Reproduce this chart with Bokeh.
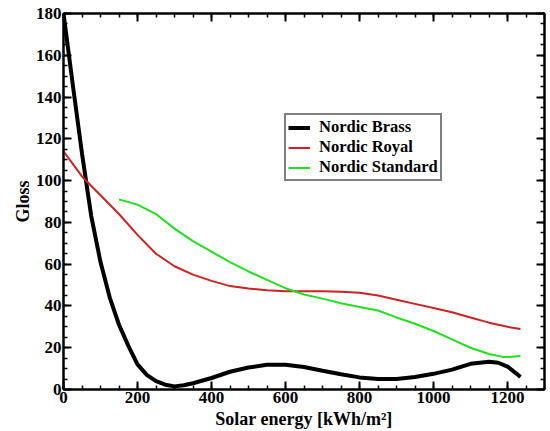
from bokeh.plotting import figure
from bokeh.models import (LinearAxis, Range1d, Legend, LegendItem, SingleIntervalTicker,
                          CustomJSTickFormatter)
from bokeh.embed import file_html
from bokeh.resources import INLINE

# ---- data ----
brass_x = [0, 25, 50, 75, 100, 125, 150, 175, 200, 225, 250, 275, 300, 325, 350, 400, 450, 500, 550,
           600, 650, 700, 750, 800, 850, 900, 950, 1000, 1050, 1100, 1150, 1175, 1200, 1225, 1235]
brass_y = [180, 146, 113, 83, 61, 44, 31, 21, 12, 7, 4, 2.3, 1.5, 2, 3, 5.5, 8.5, 10.5, 11.8,
           11.8, 10.8, 9, 7.3, 5.8, 5, 5, 6, 7.5, 9.5, 12.3, 13.3, 12.8, 11, 7.5, 6]

royal_x = [0, 50, 100, 150, 200, 250, 300, 350, 400, 450, 500, 550, 600, 650, 700, 750, 800,
           850, 900, 950, 1000, 1050, 1100, 1150, 1200, 1235]
royal_y = [114, 102, 93, 84, 74, 65, 59, 55, 52, 49.5, 48.3, 47.5, 47, 47, 47, 46.8, 46.3,
           45, 43, 41, 39, 37, 34.5, 32, 30, 29]

standard_x = [150, 200, 250, 300, 350, 400, 450, 500, 550, 600, 650, 700, 750, 800, 850, 900,
              950, 1000, 1050, 1100, 1150, 1190, 1210, 1235]
standard_y = [91, 88.5, 84, 77, 71, 66, 61, 56.5, 52.5, 48.5, 45.5, 43.5, 41.3, 39.5, 37.8, 34.5,
              31.5, 28, 24, 20, 17, 15.5, 15.7, 16]

series_names = ["Nordic Brass", "Nordic Royal", "Nordic Standard"]
x_label = "Solar energy [kWh/m\u00b2]"
y_label = "Gloss"

FONT = "Liberation Serif"

p = figure(width=550, height=431, output_backend="svg", toolbar_location=None,
           x_range=Range1d(0, 1300), y_range=Range1d(0, 180),
           x_axis_type=None, y_axis_type=None,
           min_border_left=63, min_border_right=6, min_border_top=13, min_border_bottom=42,
           background_fill_color="white", border_fill_color="white")
p.xgrid.visible = False
p.ygrid.visible = False
p.outline_line_color = "black"
p.outline_line_width = 2

bottom = LinearAxis(axis_label=x_label)
left = LinearAxis(axis_label=y_label)
top = LinearAxis(formatter=CustomJSTickFormatter(code="return ''"))
right = LinearAxis(formatter=CustomJSTickFormatter(code="return ''"))
p.add_layout(bottom, "below")
p.add_layout(left, "left")
p.add_layout(top, "above")
p.add_layout(right, "right")

def style(ax, xdir, labels=True):
    ax.ticker = SingleIntervalTicker(interval=200 if xdir else 20, num_minor_ticks=4)
    ax.axis_line_color = "black"
    ax.axis_line_width = 2
    ax.major_tick_in = 8
    ax.major_tick_out = 0
    ax.minor_tick_in = 4
    ax.minor_tick_out = 0
    ax.major_tick_line_color = "black"
    ax.major_tick_line_width = 2
    ax.minor_tick_line_color = "black"
    ax.minor_tick_line_width = 1.5
    if labels:
        ax.major_label_text_font = FONT
        ax.major_label_text_font_style = "bold"
        ax.major_label_text_font_size = "17px"
        ax.major_label_text_color = "black"
        ax.major_label_standoff = 2
        ax.axis_label_text_font = FONT
        ax.axis_label_text_font_style = "bold"
        ax.axis_label_text_font_size = "18px"
        ax.axis_label_text_color = "black"
        ax.axis_label_standoff = 3 if xdir else 0
    else:
        ax.major_label_standoff = 0

style(bottom, True)
style(left, False)
style(top, True, labels=False)
style(right, False, labels=False)

r1 = p.line(brass_x, brass_y, line_color="black", line_width=4)
r2 = p.line(royal_x, royal_y, line_color="#cc2222", line_width=2)
r3 = p.line(standard_x, standard_y, line_color="#22dd22", line_width=2)

legend = Legend(items=[LegendItem(label=series_names[0], renderers=[r1]),
                       LegendItem(label=series_names[1], renderers=[r2]),
                       LegendItem(label=series_names[2], renderers=[r3])],
                location=(221, 208))
legend.border_line_color = "black"
legend.border_line_width = 2
legend.background_fill_alpha = 1
legend.label_text_font = FONT
legend.label_text_font_style = "bold"
legend.label_text_font_size = "16.5px"
legend.label_text_line_height = 0.8
legend.label_text_color = "black"
legend.glyph_width = 22
legend.glyph_height = 15
legend.label_height = 15
legend.spacing = 0
legend.padding = 2
legend.margin = 0
legend.label_standoff = 9
p.add_layout(legend)

open("out.html", "w").write(file_html(p, INLINE))
